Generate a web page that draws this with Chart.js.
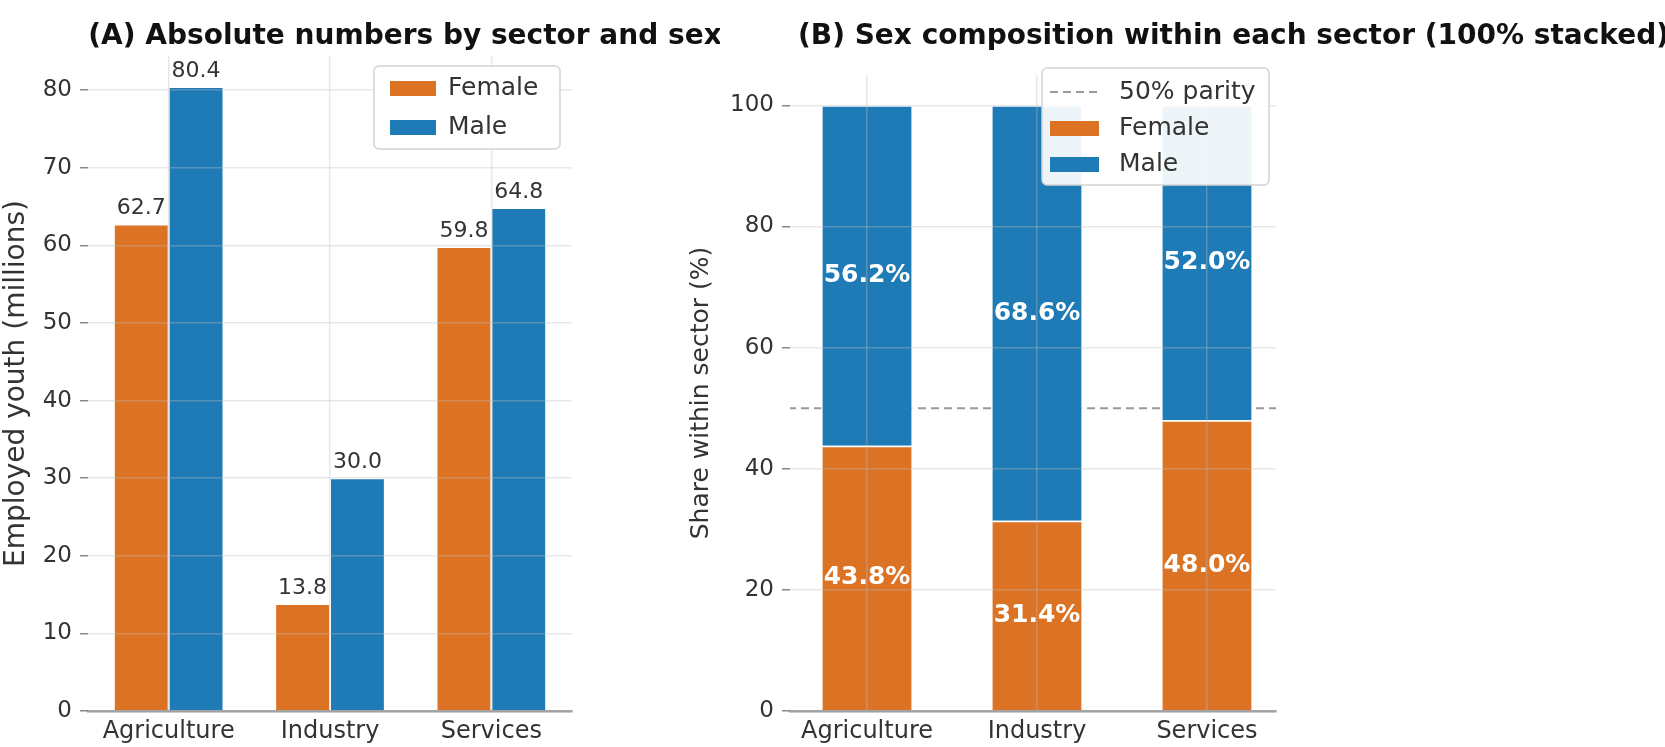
<!DOCTYPE html>
<html>
<head>
<meta charset="utf-8">
<script src="https://cdn.jsdelivr.net/npm/chart.js@4.4.1/dist/chart.umd.min.js"></script>
<style>
  html, body { margin: 0; padding: 0; background: #fff; }
  #wrap { position: relative; width: 1665px; height: 747px; overflow: hidden; }
  canvas { position: absolute; top: 0; }
  #chartA { left: 0; }
  #chartB { left: 680px; }
</style>
</head>
<body>
<div id="wrap">
  <canvas id="chartA" width="720" height="747"></canvas>
  <canvas id="chartB" width="985" height="747"></canvas>
</div>
<script>
// data
var sectors = ['Agriculture', 'Industry', 'Services'];
var femaleMillions = [62.7, 13.8, 59.8];
var maleMillions = [80.4, 30.0, 64.8];
var femaleShare = [43.8, 31.4, 48.0];
var maleShare = [56.2, 68.6, 52.0];
var parityLevel = 50;

var cFemale = '#dc7224';
var cMale = '#1f7bb6';
var gridCol = 'rgba(190,190,190,0.35)';
var spineCol = '#9a9a9a';
var textCol = '#333';

Chart.defaults.font.family = "'DejaVu Sans', sans-serif";
Chart.defaults.color = textCol;

// titre de chaque panneau
var panelTitle = {
  id: 'panelTitle',
  afterDraw: function (chart, args, o) {
    var c = chart.ctx;
    c.save();
    c.font = 'bold ' + o.size + 'px "DejaVu Sans"';
    c.fillStyle = '#111';
    c.textAlign = o.align;
    c.textBaseline = 'middle';
    c.fillText(o.text, o.x, o.y);
    c.restore();
  }
};

// valeurs sur les barres
var barValues = {
  id: 'barValues',
  afterDraw: function (chart, args, o) {
    var c = chart.ctx;
    c.save();
    c.textAlign = 'center';
    chart.data.datasets.forEach(function (ds, di) {
      var meta = chart.getDatasetMeta(di);
      if (meta.type !== 'bar') return;
      meta.data.forEach(function (bar, i) {
        if (o.mode === 'top') {
          c.font = o.size + 'px "DejaVu Sans"';
          c.fillStyle = textCol;
          c.textBaseline = 'bottom';
          c.fillText(ds.data[i].toFixed(1), bar.x, bar.y - 5);
        } else {
          c.font = 'bold ' + o.size + 'px "DejaVu Sans"';
          c.fillStyle = '#fff';
          c.textBaseline = 'middle';
          c.fillText(ds.data[i].y.toFixed(1) + '%', bar.x, (bar.y + bar.base) / 2);
        }
      });
    });
    c.restore();
  }
};

// legende dans le cadre
var boxLegend = {
  id: 'boxLegend',
  afterDraw: function (chart, args, o) {
    var c = chart.ctx, r = 5;
    c.save();
    c.beginPath();
    c.moveTo(o.x + r, o.y);
    c.arcTo(o.x + o.w, o.y, o.x + o.w, o.y + o.h, r);
    c.arcTo(o.x + o.w, o.y + o.h, o.x, o.y + o.h, r);
    c.arcTo(o.x, o.y + o.h, o.x, o.y, r);
    c.arcTo(o.x, o.y, o.x + o.w, o.y, r);
    c.closePath();
    c.fillStyle = 'rgba(255,255,255,0.92)';
    c.fill();
    c.strokeStyle = '#d4d4d4';
    c.lineWidth = 1.5;
    c.stroke();
    c.font = o.size + 'px "DejaVu Sans"';
    c.textBaseline = 'middle';
    c.textAlign = 'left';
    o.order.forEach(function (di, k) {
      var ds = chart.data.datasets[di];
      var cy = o.y + o.first + k * o.rowH;
      if (ds.type === 'line') {
        c.strokeStyle = ds.borderColor;
        c.lineWidth = ds.borderWidth;
        c.setLineDash(ds.borderDash);
        c.beginPath();
        c.moveTo(o.hx, cy);
        c.lineTo(o.hx + o.hw, cy);
        c.stroke();
        c.setLineDash([]);
      } else {
        c.fillStyle = ds.backgroundColor;
        c.fillRect(o.hx, cy - 7, o.hw, 15);
      }
      c.fillStyle = textCol;
      c.fillText(ds.label, o.tx, cy);
    });
    c.restore();
  }
};

// (A) nombres absolus
var ctxA = document.getElementById('chartA');
var chartA = new Chart(ctxA, {
  type: 'bar',
  data: {
    labels: sectors,
    datasets: [
      { label: 'Female', data: femaleMillions, backgroundColor: cFemale, borderColor: '#fff', borderWidth: 1,
        categoryPercentage: 0.68, barPercentage: 1.0 },
      { label: 'Male', data: maleMillions, backgroundColor: cMale, borderColor: '#fff', borderWidth: 1,
        categoryPercentage: 0.68, barPercentage: 1.0 }
    ]
  },
  options: {
    responsive: false,
    animation: false,
    devicePixelRatio: 1,
    layout: { padding: { left: 0, top: 56, right: 148, bottom: 0 } },
    plugins: {
      legend: { display: false },
      tooltip: { enabled: false },
      panelTitle: { text: '(A) Absolute numbers by sector and sex', x: 405, y: 37, size: 28, align: 'center' },
      barValues: { mode: 'top', size: 22 },
      boxLegend: { x: 374, y: 66, w: 186, h: 83, first: 22, rowH: 39, hx: 390, hw: 46, tx: 448, size: 25, order: [0, 1] }
    },
    scales: {
      x: {
        offset: true,
        grid: { offset: false, color: gridCol, lineWidth: 1.5, drawTicks: false, z: 1 },
        border: { color: spineCol, width: 2.5, z: 1 },
        ticks: { color: textCol, font: { size: 24 }, padding: 6 },
        afterFit: function (s) { s.height = 36; }
      },
      y: {
        min: 0,
        max: 84.4,
        ticks: { stepSize: 10, includeBounds: false, color: textCol, font: { size: 23 }, padding: 8 },
        grid: { color: gridCol, lineWidth: 1.5, tickColor: '#888', tickLength: 8, tickWidth: 1.5, z: 1 },
        border: { display: false },
        title: { display: true, text: 'Employed youth (millions)', color: textCol, font: { size: 28 }, padding: { top: 0, bottom: 0 } },
        afterFit: function (s) { s.width = 88; }
      }
    }
  },
  plugins: [panelTitle, barValues, boxLegend]
});

// (B) composition en %
var ctxB = document.getElementById('chartB');
var chartB = new Chart(ctxB, {
  type: 'bar',
  data: {
    datasets: [
      { label: 'Female', data: femaleShare.map(function (v, i) { return { x: i, y: v }; }),
        backgroundColor: cFemale, borderColor: '#fff', borderWidth: 1.5, categoryPercentage: 0.54, barPercentage: 1.0 },
      { label: 'Male', data: maleShare.map(function (v, i) { return { x: i, y: v }; }),
        backgroundColor: cMale, borderColor: '#fff', borderWidth: 1.5, categoryPercentage: 0.54, barPercentage: 1.0 },
      { type: 'line', label: '50% parity', data: [{ x: -1, y: parityLevel }, { x: 3, y: parityLevel }],
        borderColor: 'rgba(120,120,120,0.75)', borderWidth: 2, borderDash: [8, 5], pointRadius: 0, fill: false }
    ]
  },
  options: {
    responsive: false,
    animation: false,
    devicePixelRatio: 1,
    layout: { padding: { left: 0, top: 75, right: 985 - 596, bottom: 0 } },
    plugins: {
      legend: { display: false },
      tooltip: { enabled: false },
      panelTitle: { text: '(B) Sex composition within each sector (100% stacked)', x: 118, y: 37, size: 28, align: 'left' },
      barValues: { mode: 'inside', size: 25 },
      boxLegend: { x: 362, y: 68, w: 227, h: 117, first: 24, rowH: 36, hx: 370, hw: 49, tx: 439, size: 25, order: [2, 0, 1] }
    },
    scales: {
      x: {
        type: 'linear',
        min: -0.453,
        max: 2.406,
        offset: false,
        stacked: true,
        grid: { offset: false, color: gridCol, lineWidth: 1.5, drawTicks: false, z: 1 },
        border: { color: spineCol, width: 2.5, z: 1 },
        ticks: { stepSize: 1, includeBounds: false, color: textCol, font: { size: 24 }, padding: 6,
          callback: function (v) { return sectors[v]; } },
        afterFit: function (s) { s.height = 36; }
      },
      y: {
        min: 0,
        max: 105,
        stacked: true,
        ticks: { stepSize: 20, includeBounds: false, color: textCol, font: { size: 23 }, padding: 8 },
        grid: { color: gridCol, lineWidth: 1.5, tickColor: '#888', tickLength: 8, tickWidth: 1.5, z: 1 },
        border: { display: false },
        title: { display: true, text: 'Share within sector (%)', color: textCol, font: { size: 25 }, padding: { top: 6, bottom: 0 } },
        afterFit: function (s) { s.width = 110; }
      }
    }
  },
  plugins: [panelTitle, barValues, boxLegend]
});
</script>
</body>
</html>
